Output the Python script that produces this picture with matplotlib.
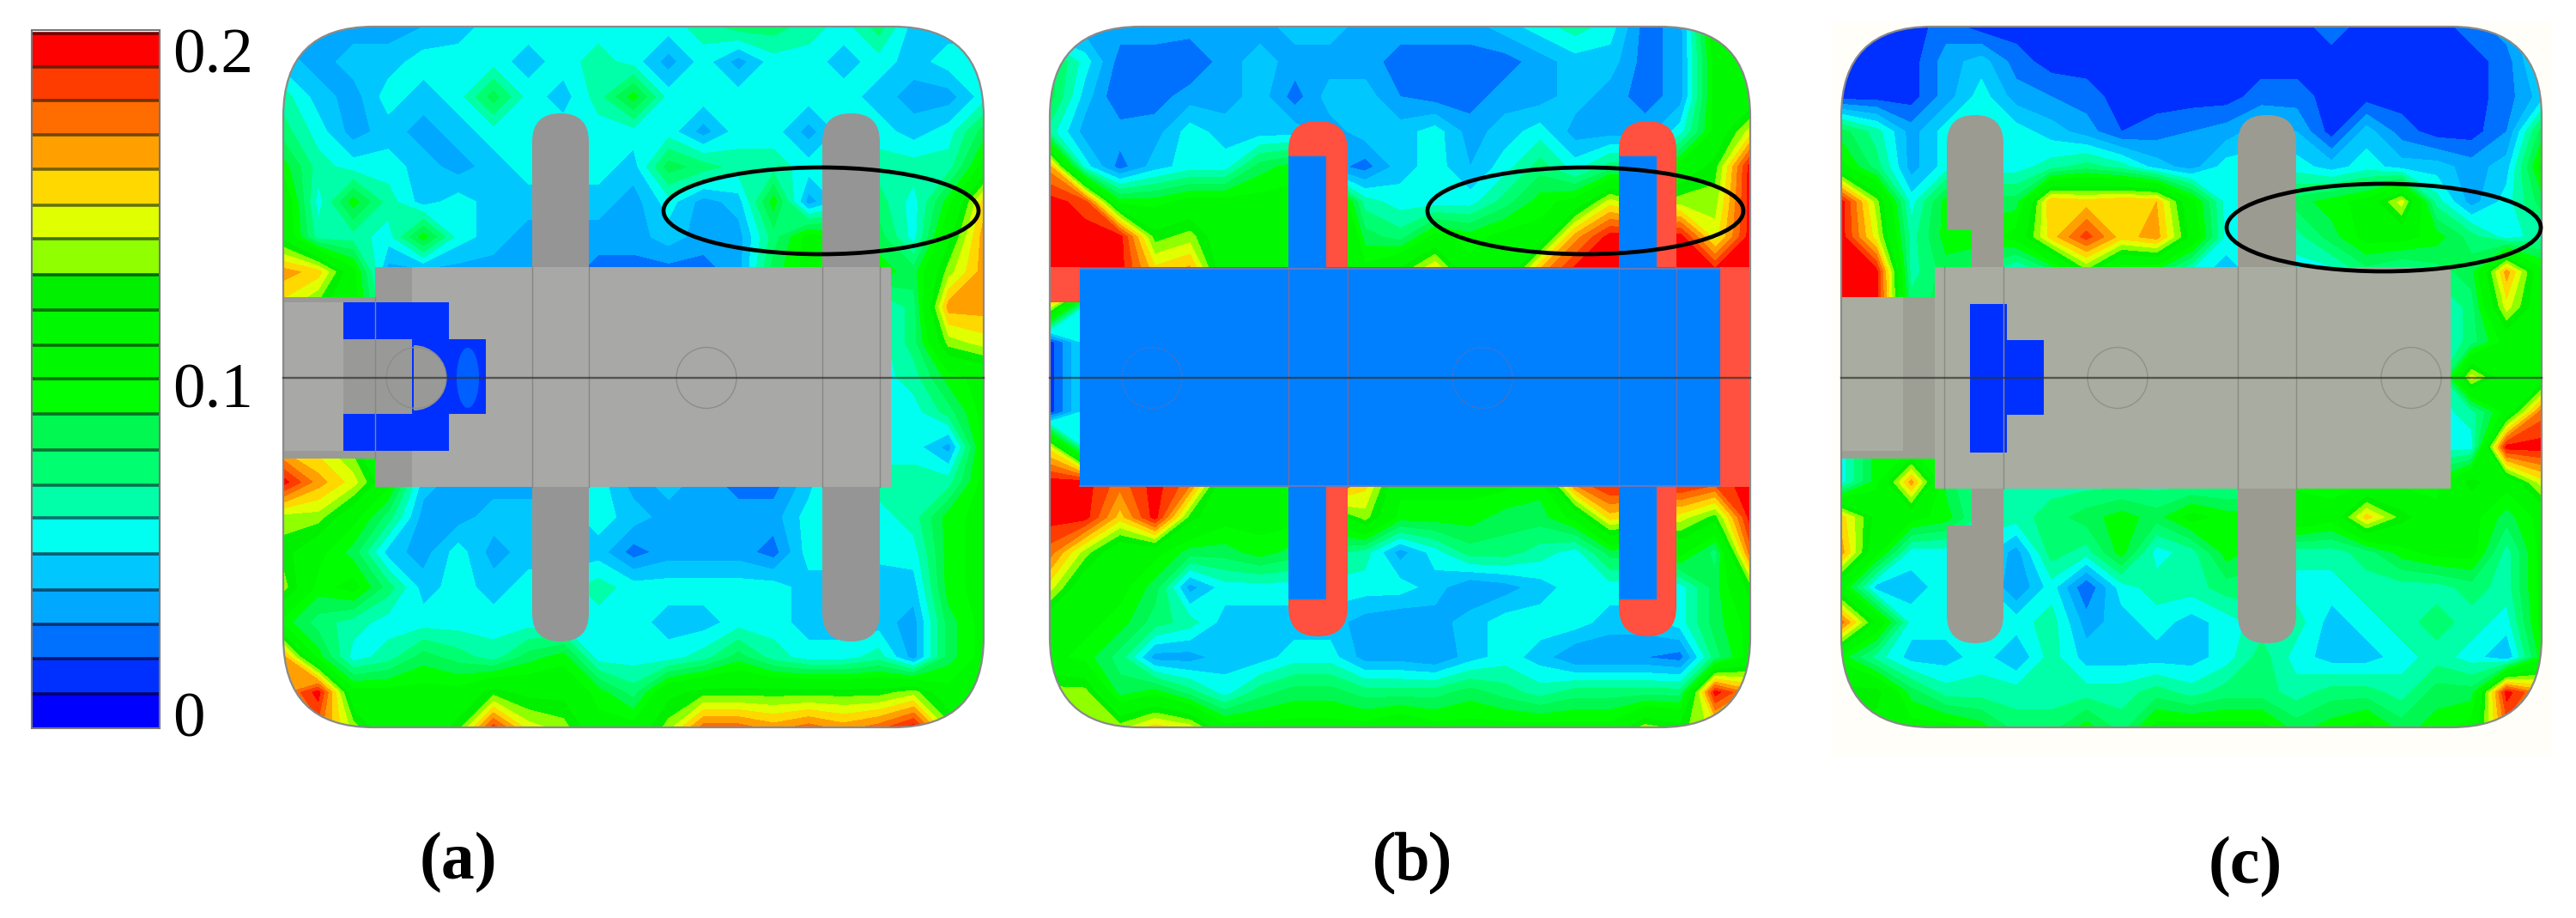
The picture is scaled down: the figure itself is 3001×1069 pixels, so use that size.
import numpy as np
import matplotlib
matplotlib.use('Agg')
import matplotlib.pyplot as plt
import matplotlib.patheffects as pe
from matplotlib.patches import Rectangle, FancyBboxPatch, Ellipse, Polygon, Wedge

# colour key, bottom row to top row
key_colors = ['#0000ff', '#0030ff', '#0070ff', '#00a8ff', '#00c8ff', '#00fff0', '#00ffa8', '#00ff70',
              '#00f850', '#00ff00', '#00f800', '#00f800', '#00f000', '#90ff00', '#e0ff00', '#ffd800',
              '#ffa000', '#ff6c00', '#ff3c00', '#ff0000']
key_labels = ['0', '0.1', '0.2']
panel_labels = ['(a)', '(b)', '(c)']

# field values, in hundredths, 21 columns by 21 rows, top row first
H = 5  # cells hidden under the plate
panel_a = [
    [3, 3, 3, 3, 3.5, 4, 5, 5, 5, 5, 5, 5, 6, 7, 7, 6, 5, 7, 4, 4, 4],
    [4, 3, 4, 4, 5, 5, 5, 4, 5, 6, 5, 3, 5, 3, 5, 5, 4, 5, 4, 5, 5],
    [6, 4, 3, 5, 4, 5, 8, 5, 4, 6, 9, 5, 5, 5, 5, 5, 5, 4, 3, 3, 5],
    [7, 5, 3, 4, 3, 4, 5, 5, 5, 5, 5, 5, 3, 5, 5, 3, 5, 5, 4, 5, 8],
    [9, 6, 5, 5, 4, 3, 4, 5, 5, 5, 4, 8, 7, 6, 6, 5, 5, 6, 6, 6, 10],
    [11, 5, 9, 6, 4, 5, 4, 4, 4, 4, 3, 5, 3, 4, 9, 3, 5, 7, 5, 9, 15],
    [11, 6, 6, 5, 9, 5, 4, 3, 3, 3, 3, 4, 3, 3, 7, 10, 9, 8, 5, 11, 16],
    [16, 15, 10, 3, 3, 3, 3, 3, 3, 2, 2, 2, 2, 3, 8, 10, 9, 9, 8, 13, 16],
    [14, 12, 10, H, H, H, H, H, H, H, H, H, H, H, H, H, H, H, 7, 16, 16],
    [14, 12, 10, H, H, H, H, H, H, H, H, H, H, H, H, H, H, H, 7, 13, 14],
    [14, 12, 10, H, H, H, H, H, H, H, H, H, H, H, H, H, H, H, 6, 9, 10],
    [15, 14, 12, H, H, H, H, H, H, H, H, H, H, H, H, H, H, H, 5, 7, 10],
    [15, 14, 12, H, H, H, H, H, H, H, H, H, H, H, H, H, H, H, 5, 3, 10],
    [19, 16, 14, 10, 4, 3, 3, 3, 3, 5, 3, 4, 3, 2, 2, 4, 7, 6, 6, 6, 10],
    [13, 13, 10, 7, 3, 3, 4, 4, 4, 5, 4, 3, 3, 3, 3, 5, 5, 5, 6, 9, 10],
    [12, 10, 8, 4, 3, 5, 3, 4, 4, 4, 2, 3, 3, 3, 2, 5, 5, 5, 5, 9, 10],
    [13, 9, 10, 7, 4, 5, 4, 5, 5, 6, 5, 5, 5, 5, 5, 4, 4, 3.5, 4, 9, 10],
    [9, 7, 6, 5, 5, 5, 5, 5, 5, 5, 5, 4, 4, 5, 5, 4, 4, 4, 3, 8, 10],
    [16, 9, 5, 6, 8, 7, 6, 8, 9, 5, 5, 5, 6, 8, 6, 5, 5, 6, 3, 8, 10],
    [16, 19, 10, 10, 10, 10, 12, 11, 11, 9, 7, 11, 12, 12, 12, 12, 12, 12, 13, 10, 12],
    [13, 17, 13, 10, 10, 12, 18, 14, 13, 10, 10, 13, 17, 17, 16, 17, 16, 17, 19, 13, 10],
]
panel_b = [
    [3, 3, 3, 3, 3, 3, 3, 4, 4, 3, 3, 3, 3, 4, 5, 6, 5, 2, 3, 11, 12],
    [8, 5, 2, 2, 1.5, 3, 4, 3, 3, 3, 2, 2, 2, 2, 3, 4, 4, 2, 3, 10, 10],
    [8, 4, 1.5, 2, 3, 3, 4, 2, 4, 4, 2.5, 2, 2, 3, 3, 4, 3, 2, 3, 10, 10],
    [6, 3, 3, 3, 5, 4, 4, 4, 3, 4, 4, 5, 3, 4, 5, 3, 3, 3, 5, 10, 14],
    [16, 5, 2, 4, 5, 5, 8, 9, 3, 2, 4, 5, 3.5, 5, 7, 5, 7, 7, 10, 12, 19],
    [19, 18, 9, 9, 10, 10, 10, 10, 13, 6, 5, 5, 5, 7, 9, 10, 14, 12, 13, 13, 19],
    [19, 19, 19, 12, 13, 10, 10, 10, 15, 8, 7, 10, 9, 10, 10, 16, 19, 19, 19, 14, 19],
    [19, 19, 19, 15, 16, 10, 10, 10, 10, 10, 12, 15, 10, 10, 16, 19, 19, 19, 19, 19, 19],
    [14, H, H, H, H, H, H, H, H, H, H, H, H, H, H, H, H, H, H, 19, 19],
    [1, H, H, H, H, H, H, H, H, H, H, H, H, H, H, H, H, H, H, 19, 19],
    [1, H, H, H, H, H, H, H, H, H, H, H, H, H, H, H, H, H, H, 19, 19],
    [1, H, H, H, H, H, H, H, H, H, H, H, H, H, H, H, H, H, H, 19, 19],
    [14, H, H, H, H, H, H, H, H, H, H, H, H, H, H, H, H, H, H, 19, 19],
    [19, 19, 17, 19, 17, 10, 10, 10, 19, 15, 10, 10, 10, 10, 9, 17, 19, 19, 19, 18, 19],
    [19, 19, 15, 19, 12, 10, 10, 10, 10, 13, 9, 9, 9, 8, 8, 10, 15, 14, 14, 12, 19],
    [17, 13, 10, 10, 8, 8, 9, 8, 7, 6, 3, 5, 7, 7, 6, 5, 8, 8, 10, 7, 17],
    [14, 10, 10, 8, 3, 5, 5, 5, 5, 5, 5, 4, 2.5, 3, 4, 5, 5, 5, 5, 8, 12],
    [10, 10, 9, 7, 6, 4, 4, 4, 4, 3, 2.5, 3, 4, 5, 5, 5, 4, 4, 5, 8, 10],
    [10, 9, 7, 3, 3, 4, 4, 5, 5, 3, 3, 2.5, 4, 5, 4, 2.5, 2.5, 2.5, 2, 7, 10],
    [13, 13, 8, 9, 7, 5, 7, 8, 8, 7, 7, 7, 8, 7, 6, 7, 7, 7, 7, 19, 16],
    [13, 13, 13, 15, 14, 10, 10, 10, 10, 10, 11, 10, 10, 10, 10, 10, 10, 13, 12, 14, 17],
]
panel_c = [
    [1, 1, 1, 2, 1, 1, 1, 1, 1, 1, 1, 1, 1, 1, 2, 1, 1, 1, 2, 3, 5],
    [1, 1, 1, 3, 4, 2, 1, 1, 1, 1, 1, 1, 1, 1, 1, 1, 1, 1, 1, 2, 5],
    [1, 1, 1, 3, 5, 3, 2.5, 2, 1, 1, 1, 1, 2, 2, 1, 1, 1, 1, 1, 2, 4],
    [8, 6, 3, 5, 5, 5, 4, 3, 1.5, 2, 2.5, 3, 4, 3.5, 1, 4, 2, 1, 1, 2.5, 8],
    [10, 7, 3, 5, 5, 5, 6, 7, 6, 4, 3, 5, 5, 5, 4, 5, 4, 4, 3, 4, 10],
    [19, 13, 5, 9, 8, 8, 15.5, 15, 15.5, 15.5, 10, 5, 5, 8, 9, 10, 14, 6, 3, 5, 8],
    [19, 14, 6, 9, 9, 10, 15, 18, 15, 16, 11, 5, 5, 6, 8, 10, 10, 9, 7, 5, 6],
    [19, 19, 6, 8, 7, 5, 7, 12, 8, 8, 5, 4, 5, 5, 5, 7, 6, 7, 8, 16, 10],
    [19, 19, 7, 8, H, H, H, H, H, H, H, H, H, H, H, H, H, H, 7, 14, 10],
    [19, 19, 7, 8, H, H, H, H, H, H, H, H, H, H, H, H, H, H, 7, 10, 10],
    [19, 19, 7, 8, H, H, H, H, H, H, H, H, H, H, H, H, H, H, 14, 10, 10],
    [9, 9, 9, 8, H, H, H, H, H, H, H, H, H, H, H, H, H, H, 6, 10, 17],
    [5, 9, 9, 8, H, H, H, H, H, H, H, H, H, H, H, H, H, H, 5, 19, 19],
    [5, 9, 16, 8, 6, 6, 6, 6, 6, 6, 6, 6, 6, 9, 9, 9, 9, 9, 12, 10, 14],
    [15, 11, 10, 9, 6, 6, 7, 8, 9, 8, 10, 9, 9, 11, 10, 15, 12, 10, 10, 8, 10],
    [16, 10, 5, 5, 5, 3, 7, 6, 9, 5, 6, 9, 8, 6, 6, 7, 9, 10, 10, 6, 10],
    [10, 4, 4, 5, 5, 2.5, 5, 1.5, 5, 6, 6, 7, 7, 5, 5, 6, 6, 6, 7, 6, 10],
    [17, 11, 5, 5, 5, 5, 6, 3, 4, 5, 4, 5, 6, 6, 4, 5, 6, 7, 6, 5, 10],
    [9, 6, 4, 4, 5, 3.5, 6, 4, 4, 4, 4, 5, 7, 5, 4, 4, 5, 6, 5, 3.5, 9],
    [12, 12, 8, 6, 6, 6, 6, 6, 6, 7, 6, 7, 7, 6, 7, 7, 6, 8, 8, 19, 16],
    [11, 11, 10, 10, 9, 7, 7, 9, 7, 10, 10, 10, 10, 8, 9, 10, 8, 9, 10, 17, 12],
]

plt.rcParams['font.family'] = ['Liberation Serif', 'DejaVu Serif']

W, H_PX = 3001, 1069
fig = plt.figure(figsize=(W / 100, H_PX / 100), dpi=100)
ax = fig.add_axes([0, 0, 1, 1])
ax.set_xlim(0, W)
ax.set_ylim(H_PX, 0)
ax.axis('off')

levels = (np.arange(21) - 0.5) / 100
PANEL_TOP, PANEL_SIZE = 31, 816
BODY = '#a8a8a6'
FIN = '#959595'
DARK = '#999997'
LINE = '#868684'


def draw_field(grid, left, clip):
    values = np.array(grid, dtype=float) / 100
    xs = np.linspace(left, left + PANEL_SIZE, values.shape[1])
    ys = np.linspace(PANEL_TOP, PANEL_TOP + PANEL_SIZE, values.shape[0])
    cs = ax.contourf(xs, ys, values, levels=levels, colors=key_colors, zorder=1)
    clip.set_transform(ax.transData)
    cs.set_clip_path(clip)
    return cs


def rounded(x0, y0, x1, y1, r, **kw):
    return FancyBboxPatch((x0, y0), x1 - x0, y1 - y0,
                          boxstyle='round,pad=0,rounding_size=%g' % r, **kw)


def rect(x0, y0, x1, y1, color, z=2):
    ax.add_patch(Rectangle((x0, y0), x1 - x0, y1 - y0, fc=color, ec='none', zorder=z))


def outline(left):
    ax.add_patch(rounded(left, PANEL_TOP, left + PANEL_SIZE, PANEL_TOP + PANEL_SIZE, 105,
                         fc='none', ec='#8a8a8a', lw=1.6, zorder=5))


def center_line(left):
    ax.plot([left, left + PANEL_SIZE], [440, 440], color='#303030', alpha=0.7, lw=1.7, zorder=6)


def vlines(xs, y0, y1, color=LINE):
    for x in xs:
        ax.plot([x, x], [y0, y1], color=color, lw=1.0, zorder=4)


def circle(x, color='#8c8c8a', ls='-'):
    ax.add_patch(Ellipse((x, 440), 70, 71, fc='none', ec=color, lw=1.0, ls=ls, zorder=4))


# page tint behind the third panel
rect(2134, 26, 2974, 880, '#fffef9', z=0)

# colour key
key_edges = [847, 808, 767, 727, 687, 645, 603, 565, 524, 482, 441, 402, 361, 320, 278, 239, 197, 157, 117, 78, 39]
for i, c in enumerate(key_colors):
    rect(37, key_edges[i + 1], 186, key_edges[i], c)
    shade = tuple(0.45 * v for v in matplotlib.colors.to_rgb(c))
    ax.plot([37, 186], [key_edges[i + 1]] * 2, color=shade, lw=2.6, zorder=3, solid_capstyle='butt')
ax.add_patch(Rectangle((37, 35), 149, 813, fc='none', ec='#777777', lw=1.5, zorder=4))
for lab, y in zip(key_labels, [840, 457, 67]):
    ax.text(201, y, lab, fontsize=54, ha='left', va='center', color='black')

# panel (a)
La = 330
draw_field(panel_a, La, rounded(La, PANEL_TOP, La + PANEL_SIZE, PANEL_TOP + PANEL_SIZE, 105))
for x0, x1 in [(620, 686), (958, 1025)]:
    ax.add_patch(rounded(x0, 132, x1, 747, 33, fc=FIN, ec='none', zorder=2))
rect(330, 346, 437, 534, BODY)
rect(330, 525, 437, 534, DARK, z=2.2)
rect(330, 346, 437, 352, DARK, z=2.2)
rect(437, 311, 1038, 567, BODY)
rect(437, 311, 480, 567, DARK, z=2.2)
rect(400, 393, 437, 482, DARK, z=2.2)
ax.add_patch(Polygon([(400, 352), (523, 352), (523, 395), (566, 395), (566, 482), (523, 482),
                      (523, 525), (400, 525), (400, 482), (480, 482), (480, 395), (400, 395)],
                     fc='#0030ff', ec='none', zorder=3))
ax.add_patch(Ellipse((545, 440), 26, 70, fc='#0060ff', ec='none', zorder=3.1))
ax.add_patch(Wedge((482, 440), 38, -90, 90, fc=DARK, ec='none', zorder=3.2))
vlines([437], 346, 534)
vlines([620, 686, 958, 1025], 311, 567)
circle(485)
circle(823)
center_line(La)
outline(La)

# panel (b)
Lb = 1223
draw_field(panel_b, Lb, rounded(Lb, PANEL_TOP, Lb + PANEL_SIZE, PANEL_TOP + PANEL_SIZE, 105))
for x0, x1 in [(1501, 1570), (1886, 1953)]:
    ax.add_patch(rounded(x0, 141, x1, 741, 34, fc='#ff5040', ec='none', zorder=2))
    rect(x0, 182, x0 + 44, 698, '#0080ff', z=2.1)
rect(1258, 311, 2004, 567, '#0080ff')
rect(1223, 311, 1258, 352, '#ff5040')
rect(2004, 311, 2039, 567, '#ff5040')
vlines([1501, 1570, 1886, 1953], 311, 567, '#7a6a9a')
ax.plot([1258, 2004], [313, 313], color='#7a78b0', lw=1.2, zorder=4)
ax.plot([1258, 2004], [566, 566], color='#7a78b0', lw=1.2, zorder=4)
circle(1342, '#7a6a9a', ':')
circle(1727, '#7a6a9a', ':')
center_line(Lb)
outline(Lb)

# panel (c)
Lc = 2145
draw_field(panel_c, Lc, rounded(Lc, PANEL_TOP, Lc + PANEL_SIZE, PANEL_TOP + PANEL_SIZE, 105))
for x0, x1 in [(2268, 2334), (2607, 2675)]:
    ax.add_patch(rounded(x0, 134, x1, 749, 33, fc='#9b9b92', ec='none', zorder=2))
# the first fin is cut away next to the plate, the field shows there
draw_field(panel_c, Lc, Rectangle((2268, 268), 29, 43)).set_zorder(2.5)
draw_field(panel_c, Lc, Rectangle((2268, 569), 29, 43)).set_zorder(2.5)
rect(2145, 346, 2254, 534, '#a9aca0')
rect(2217, 346, 2254, 534, '#9d9f94', z=2.2)
rect(2145, 525, 2254, 534, '#9d9f94', z=2.2)
rect(2254, 311, 2855, 569, '#a9aca0')
rect(2295, 354, 2338, 527, '#0030ff', z=3)
rect(2338, 396, 2381, 483, '#0030ff', z=3)
vlines([2265, 2334, 2607, 2675], 311, 569, '#8a8c82')
circle(2467, '#909288')
circle(2809, '#909288')
center_line(Lc)
outline(Lc)

# ellipses marking the region of interest
for x0, x1, y0, y1 in [(773, 1140, 195, 296), (1663, 2031, 195, 296), (2594, 2960, 214, 316)]:
    ax.add_patch(Ellipse(((x0 + x1) / 2, (y0 + y1) / 2), x1 - x0, y1 - y0, fc='none', ec='black',
                         lw=3.4, zorder=8))

# panel labels
ax.text(534, 1005, panel_labels[0], fontsize=56, weight='bold', ha='center', va='center')
ax.text(1645, 1005, panel_labels[1], fontsize=56, ha='center', va='center',
        path_effects=[pe.withStroke(linewidth=1.5, foreground='black')])
ax.text(2616, 1010, panel_labels[2], fontsize=56, weight='bold', ha='center', va='center')

fig.savefig('out.png', dpi=100)
